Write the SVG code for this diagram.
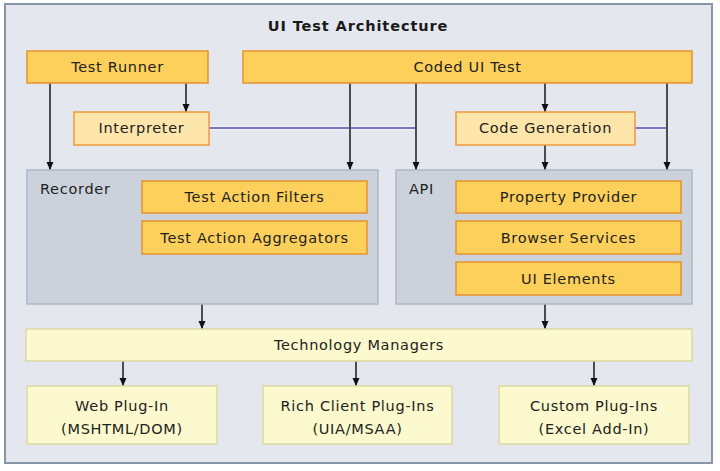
<svg xmlns="http://www.w3.org/2000/svg" width="720" height="471" viewBox="0 0 720 471">
<defs>
<marker id="ah" markerUnits="userSpaceOnUse" markerWidth="8" markerHeight="8" viewBox="0 0 8 8" refX="8" refY="4" orient="auto">
<path d="M0,0.5 L8,4 L0,7.5 Z" fill="#111"/>
</marker>
<style>
text{font-family:"DejaVu Sans","Verdana",sans-serif;font-size:14.5px;fill:#222;letter-spacing:0.7px}
.t{text-anchor:middle}
.title{font-weight:bold;letter-spacing:0.9px;fill:#1a1a1a}
.o{fill:#fdd05b;stroke:#e8912d;stroke-width:1.5}
.l{fill:#fee6ab;stroke:#ec9a3c;stroke-width:1.5}
.c{fill:#cbd2dc;stroke:#aeb8c6;stroke-width:1.5}
.y{fill:#fbf9cd;stroke:#dcd9a2;stroke-width:1.5}
.a{fill:none;stroke:#4d4d4d;stroke-width:2;marker-end:url(#ah)}
.b{fill:none;stroke:#1a1a1a;stroke-width:1.5;marker-end:url(#ah)}
.bw{fill:none;stroke:#f4f5f8;stroke-width:3.5}
.bl{fill:none;stroke:#4a4aa6;stroke-width:1.5}
</style>
</defs>
<rect x="5" y="4" width="707" height="459" fill="#e4e7ed" stroke="#8795a8" stroke-width="2"/>
<text class="t title" x="358" y="31">UI Test Architecture</text>

<g id="connectors">
<path class="bw" d="M209,128 H415"/>
<path class="bl" d="M209,128 H415"/>
<path class="bw" d="M635,128 H666"/>
<path class="bl" d="M635,128 H666"/>
<path class="a" d="M50,83 V170"/>
<path class="a" d="M186,83 V112"/>
<path class="a" d="M350,83 V170"/>
<path class="a" d="M416,83 V170"/>
<path class="a" d="M545,83 V112"/>
<path class="a" d="M667,83 V170"/>
<path class="a" d="M545,145 V170"/>
<path class="b" d="M202,304 V329"/>
<path class="b" d="M545,304 V329"/>
<path class="b" d="M123,361 V386"/>
<path class="a" d="M356,361 V386"/>
<path class="b" d="M594,361 V386"/>
</g>

<g id="test-runner"><rect class="o" x="27" y="51" width="181" height="32"/><text class="t" x="117.5" y="72">Test Runner</text></g>
<g id="coded-ui-test"><rect class="o" x="243" y="51" width="449" height="32"/><text class="t" x="467.5" y="72">Coded UI Test</text></g>
<g id="interpreter"><rect class="l" x="74" y="112" width="135" height="33"/><text class="t" x="141.5" y="133">Interpreter</text></g>
<g id="code-generation"><rect class="l" x="456" y="112" width="179" height="33"/><text class="t" x="545.5" y="133">Code Generation</text></g>

<g id="recorder"><rect class="c" x="27" y="170" width="351" height="134"/><text x="40" y="194">Recorder</text></g>
<g id="test-action-filters"><rect class="o" x="142" y="181" width="225" height="32"/><text class="t" x="254.5" y="202">Test Action Filters</text></g>
<g id="test-action-aggregators"><rect class="o" x="142" y="221" width="225" height="33"/><text class="t" x="254.5" y="243">Test Action Aggregators</text></g>

<g id="api"><rect class="c" x="396" y="170" width="296" height="134"/><text x="409" y="194">API</text></g>
<g id="property-provider"><rect class="o" x="456" y="181" width="225" height="32"/><text class="t" x="568.5" y="202">Property Provider</text></g>
<g id="browser-services"><rect class="o" x="456" y="221" width="225" height="33"/><text class="t" x="568.5" y="243">Browser Services</text></g>
<g id="ui-elements"><rect class="o" x="456" y="262" width="225" height="33"/><text class="t" x="568.5" y="284">UI Elements</text></g>

<g id="technology-managers"><rect class="y" x="26" y="329" width="666" height="32"/><text class="t" x="359" y="350">Technology Managers</text></g>

<g id="web-plugin"><rect class="y" x="27" y="386" width="190" height="58"/><text class="t" x="122" y="411">Web Plug-In</text><text class="t" x="122" y="434">(MSHTML/DOM)</text></g>
<g id="rich-client-plugins"><rect class="y" x="263" y="386" width="189" height="58"/><text class="t" x="357.5" y="411">Rich Client Plug-Ins</text><text class="t" x="357.5" y="434">(UIA/MSAA)</text></g>
<g id="custom-plugins"><rect class="y" x="499" y="386" width="190" height="58"/><text class="t" x="594" y="411">Custom Plug-Ins</text><text class="t" x="594" y="434">(Excel Add-In)</text></g>
</svg>
